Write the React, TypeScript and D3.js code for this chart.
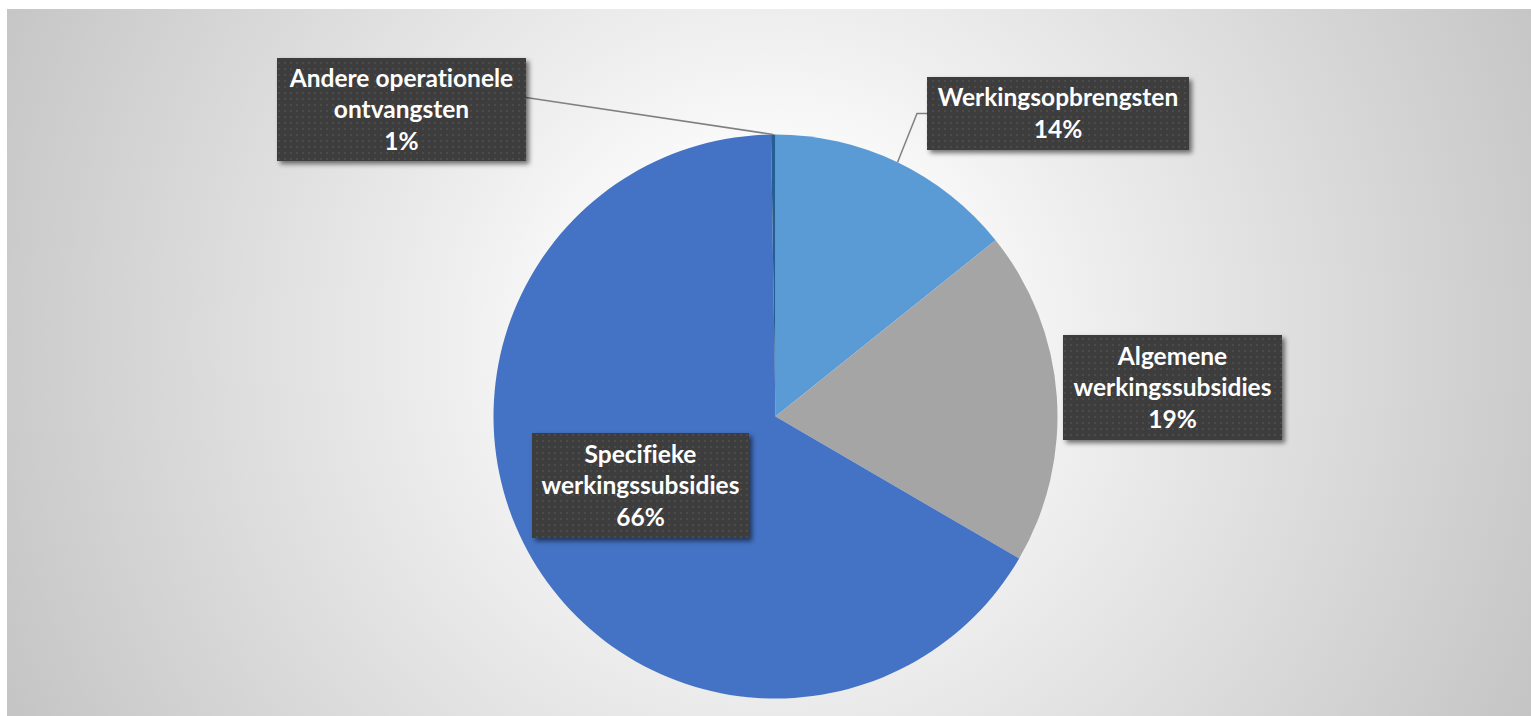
import React from "react";
import * as d3 from "d3";

const categories = [
  "Werkingsopbrengsten",
  "Algemene werkingssubsidies",
  "Specifieke werkingssubsidies",
  "Andere operationele ontvangsten",
];
const values = [14.25, 19.15, 66.35, 0.25];
const percentLabels = ["14%", "19%", "66%", "1%"];
const labelLines = [
  ["Werkingsopbrengsten"],
  ["Algemene", "werkingssubsidies"],
  ["Specifieke", "werkingssubsidies"],
  ["Andere operationele", "ontvangsten"],
];
const colors = ["#5B9BD5", "#A5A5A5", "#4472C4", "#255E91"];

// label box layout (centre, size) and leader style
const boxLayout = [
  { cx: 1058, cy: 113.5, w: 262, h: 73, leader: "left" },
  { cx: 1172.5, cy: 387.5, w: 219, h: 105, leader: "none" },
  { cx: 640.5, cy: 485.5, w: 217, h: 105, leader: "none" },
  { cx: 401.5, cy: 109.5, w: 249, h: 103, leader: "right" },
];

const W = 1531;
const H = 716;
const CX = 775.5;
const CY = 416.5;
const R = 282;
const LINE_H = 31.5;

export default function App() {
  const pie = d3
    .pie<number>()
    .value((d) => d)
    .sort(null)
    .startAngle(0)
    .endAngle(2 * Math.PI);
  const arcs = pie(values);
  const arcGen = d3.arc<d3.PieArcDatum<number>>().innerRadius(0).outerRadius(R);

  const outerPoint = (a: d3.PieArcDatum<number>) => {
    const m = (a.startAngle + a.endAngle) / 2;
    return [CX + R * Math.sin(m), CY - R * Math.cos(m)];
  };

  return (
    <svg
      width={W}
      height={H}
      style={{ position: "absolute", left: 0, top: 0 }}
      xmlns="http://www.w3.org/2000/svg"
    >
      <defs>
        <radialGradient id="bg" gradientUnits="userSpaceOnUse" cx={770} cy={340} r={900}>
          <stop offset="0" stopColor="#ffffff" />
          <stop offset="0.15" stopColor="#ffffff" />
          <stop offset="0.35" stopColor="#efefef" />
          <stop offset="0.95" stopColor="#c4c4c4" />
          <stop offset="1" stopColor="#c2c2c2" />
        </radialGradient>
        <pattern id="dots" width={6} height={6} patternUnits="userSpaceOnUse">
          <rect width={6} height={6} fill="#3d3d3d" />
          <rect x={2} y={2} width={2} height={2} fill="#4b4b4b" />
        </pattern>
        <filter id="shadow" x="-20%" y="-20%" width="140%" height="140%">
          <feGaussianBlur in="SourceAlpha" stdDeviation={2.5} />
          <feOffset dx={3} dy={3} result="b" />
          <feComponentTransfer>
            <feFuncA type="linear" slope={0.55} />
          </feComponentTransfer>
          <feMerge>
            <feMergeNode />
            <feMergeNode in="SourceGraphic" />
          </feMerge>
        </filter>
      </defs>
      <rect x={7} y={9} width={W - 7} height={H - 9} fill="url(#bg)" />
      <g>
        {arcs.map((a, i) => (
          <path
            key={categories[i]}
            d={arcGen(a) || ""}
            transform={`translate(${CX},${CY})`}
            fill={colors[i]}
          />
        ))}
      </g>
      <g>
        {arcs.map((a, i) => {
          const b = boxLayout[i];
          if (b.leader === "none") return null;
          const [px, py] = outerPoint(a);
          let d = "";
          if (b.leader === "left") {
            const bx = b.cx - b.w / 2;
            d = `M${px},${py}L${bx - 10},${b.cy}L${bx},${b.cy}`;
          } else {
            const bx = b.cx + b.w / 2;
            d = `M${px},${py}L${bx},${b.cy - 12}`;
          }
          return (
            <path key={"l" + i} d={d} fill="none" stroke="#808080" strokeWidth={1.5} />
          );
        })}
      </g>
      <g>
        {arcs.map((a, i) => {
          const b = boxLayout[i];
          const lines = [...labelLines[i], percentLabels[i]];
          const n = lines.length;
          return (
            <g key={"b" + i}>
              <rect
                x={b.cx - b.w / 2}
                y={b.cy - b.h / 2}
                width={b.w}
                height={b.h}
                fill="url(#dots)"
                filter="url(#shadow)"
              />
              {lines.map((t, j) => (
                <text
                  key={j}
                  x={b.cx}
                  y={b.cy + (j - (n - 1) / 2) * LINE_H + 8.5}
                  textAnchor="middle"
                  fill="#ffffff"
                  fontFamily="Lato, 'Open Sans', sans-serif"
                  fontWeight={700}
                  fontSize={24.5}
                  style={{ fontVariantLigatures: "none", fontFeatureSettings: '"liga" 0' }}
                >
                  {t}
                </text>
              ))}
            </g>
          );
        })}
      </g>
    </svg>
  );
}
